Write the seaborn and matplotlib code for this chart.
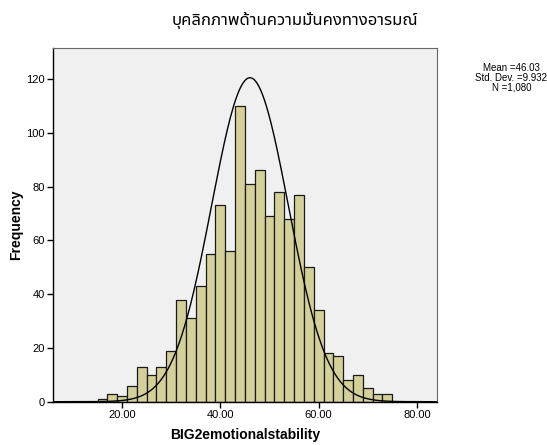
import numpy as np
import pandas as pd
import matplotlib
matplotlib.use('Agg')
import matplotlib.pyplot as plt
import seaborn as sns

# data (bin width 2, first bin starts at 15)
bin_start = 15
bin_width = 2
counts = [1, 3, 2, 6, 13, 10, 13, 19, 38, 31, 43, 55, 73, 56, 110,
          81, 86, 69, 78, 68, 77, 50, 34, 18, 17, 8, 10, 5, 3, 3]
mean_val = 46.03
std_val = 9.932
n_val = 1080
# normal curve as drawn in the picture
curve_peak = 120.5
curve_sd = 7.8

title = 'บุคลิกภาพด้านความมั่นคงทางอารมณ์'
xlabel = 'BIG2emotionalstability'
ylabel = 'Frequency'
xticks = [20, 40, 60, 80]
yticks = [0, 20, 40, 60, 80, 100, 120]

nbins = len(counts)
centers = bin_start + bin_width * (np.arange(nbins) + 0.5)
df = pd.DataFrame({'x': centers, 'n': counts})

sns.set_style('white')
plt.rcParams['font.family'] = ['Noto Sans Thai', 'Loma', 'Garuda', 'Tlwg Typo', 'DejaVu Sans']
plt.rcParams['text.color'] = 'black'
plt.rcParams['axes.labelcolor'] = 'black'
plt.rcParams['xtick.color'] = 'black'
plt.rcParams['ytick.color'] = 'black'

fig = plt.figure(figsize=(5.47, 4.45), dpi=100)
ax = fig.add_axes([0.0975, 0.0973, 0.7005, 0.7957])
ax.set_facecolor('#F0F0F0')

sns.histplot(data=df, x='x', weights='n', bins=nbins,
             binrange=(bin_start, bin_start + bin_width * nbins), ax=ax,
             color='#D4D09A', alpha=1, edgecolor='#1a1a1a', linewidth=0.9)

xs = np.linspace(6, 84, 400)
ys = curve_peak * np.exp(-0.5 * ((xs - mean_val) / curve_sd) ** 2)
sns.lineplot(x=xs, y=ys, ax=ax, color='black', linewidth=1.0)

ax.set_xlim(6, 84)
ax.set_ylim(0, 131.7)
ax.set_xticks(xticks)
ax.set_xticklabels([f'{v:.2f}' for v in xticks], fontsize=8, family='Liberation Sans')
ax.set_yticks(yticks)
ax.set_yticklabels([str(v) for v in yticks], fontsize=8, family='Liberation Sans')
ax.tick_params(axis='both', bottom=True, left=True, direction='out', length=4,
               width=1, color='black', pad=2)
ax.set_xlabel(xlabel, fontsize=10, fontweight='bold', family='Liberation Sans', labelpad=6)
ax.set_ylabel(ylabel, fontsize=10, fontweight='bold', family='Liberation Sans', labelpad=2)

for s in ['left', 'bottom']:
    ax.spines[s].set_color('black')
    ax.spines[s].set_linewidth(1.0)
for s in ['top', 'right']:
    ax.spines[s].set_color('#666666')
    ax.spines[s].set_linewidth(0.8)

fig.text(0.54, 0.953, title, ha='center', va='center', fontsize=12, fontweight='bold')
fig.text(0.935, 0.825, f'Mean ={mean_val:.2f}\nStd. Dev. ={std_val:.3f}\nN ={n_val:,}',
         ha='center', va='center', fontsize=7, family='Liberation Sans', linespacing=0.95)

fig.savefig('out.png', dpi=100)
